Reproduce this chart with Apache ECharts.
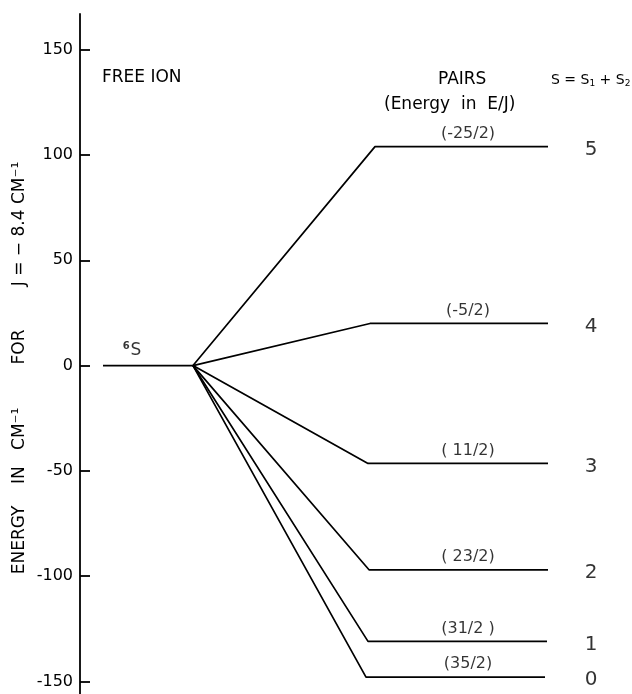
<!DOCTYPE html>
<html>
<head>
<meta charset="utf-8">
<script src="https://cdn.jsdelivr.net/npm/echarts@6/dist/echarts.min.js"></script>
<style>
html,body{margin:0;padding:0;background:#fff;}
#chart{width:632px;height:694px;}
</style>
</head>
<body>
<div id="chart"></div>
<script>
// ---- data ----
const yTicks = [-150, -100, -50, 0, 50, 100, 150];
const freeIonX = [23, 113];          // free-ion level extent (diagram x units)
const freeIonEnergy = 0;
const levelS = ['5', '4', '3', '2', '1', '0'];
const levelEJ = ['(-25/2)', '(-5/2)', '( 11/2)', '( 23/2)', '(31/2 )', '(35/2)'];
const levelEnergy = [104, 20, -46.5, -97, -131, -148];
const levelStartX = [295, 290, 288, 289, 288, 286];
const levelEndX = [468, 468, 468, 468, 467, 465];
const ejLabelX = 388;
const sLabelX = 511;

const FONT = 'DejaVu Sans';
const black = '#000';

const series = [];
series.push({
  type: 'line', symbol: 'none', silent: true,
  lineStyle: {color: black, width: 1.8},
  data: [[freeIonX[0], freeIonEnergy], [freeIonX[1], freeIonEnergy]]
});
levelEnergy.forEach((e, i) => {
  series.push({
    type: 'line', symbol: 'none', silent: true,
    lineStyle: {color: black, width: 1.7},
    data: [[freeIonX[1], freeIonEnergy], [levelStartX[i], e], [levelEndX[i], e]]
  });
});
// E/J labels above each level
series.push({
  type: 'scatter', symbolSize: 0, silent: true,
  data: levelEnergy.map((e, i) => ({value: [ejLabelX, e], name: levelEJ[i]})),
  label: {show: true, position: 'inside', offset: [0, -13], formatter: p => p.name,
          color: black, fontFamily: FONT, fontSize: 16}
});
// S labels
series.push({
  type: 'scatter', symbolSize: 0, silent: true,
  data: levelEnergy.map((e, i) => ({value: [sLabelX, e], name: levelS[i]})),
  label: {show: true, position: 'inside', offset: [0, 3], formatter: p => p.name,
          color: black, fontFamily: FONT, fontSize: 20}
});
// 6S label
series.push({
  type: 'scatter', symbolSize: 0, silent: true,
  data: [{value: [52, freeIonEnergy], name: '6S'}],
  label: {show: true, position: 'inside', offset: [0, -15],
          formatter: '{sup|6}{s|S}',
          rich: {sup: {fontSize: 10, fontWeight: 'bold', verticalAlign: 'top', padding: [0, 1, 8, 0], color: black, fontFamily: FONT},
                 s: {fontSize: 17, color: black, fontFamily: FONT}}}
});

const chart = echarts.init(document.getElementById('chart'), null, {renderer: 'canvas'});
chart.setOption({
  animation: false,
  backgroundColor: '#fff',
  grid: {left: 80, right: 0, top: 14, bottom: 0, containLabel: false},
  xAxis: {type: 'value', min: 0, max: 552, show: false},
  yAxis: {
    type: 'value', min: -156, max: 167,
    axisLine: {show: true, lineStyle: {color: black, width: 1.8}},
    axisTick: {show: true, inside: true, length: 10, customValues: yTicks, lineStyle: {color: black, width: 1.8}},
    axisLabel: {show: true, customValues: yTicks, margin: 7, color: black, fontFamily: FONT, fontSize: 16},
    splitLine: {show: false}
  },
  graphic: [
    {type: 'text', left: 102, top: 69, style: {text: 'FREE ION', font: '17px "DejaVu Sans"', fill: black}},
    {type: 'text', left: 438, top: 71, style: {text: 'PAIRS', font: '17px "DejaVu Sans"', fill: black}},
    {type: 'text', left: 384, top: 96, style: {text: '(Energy  in  E/J)', font: '17px "DejaVu Sans"', fill: black}},
    {type: 'text', left: 551, top: 73, style: {
      text: '{a|S = S}{b|1}{a| + S}{b|2}',
      rich: {a: {fontSize: 14, fontFamily: FONT, color: black},
             b: {fontSize: 9, fontFamily: FONT, color: black, padding: [8, 0, 0, 0]}}}},
    {type: 'text', x: 20, y: 368, rotation: Math.PI / 2,
     style: {text: 'ENERGY    IN   CM⁻¹        FOR        J = − 8.4 CM⁻¹', font: '17px "DejaVu Sans"', fill: black,
             align: 'center', verticalAlign: 'middle'}}
  ],
  series: series
});
</script>
</body>
</html>
